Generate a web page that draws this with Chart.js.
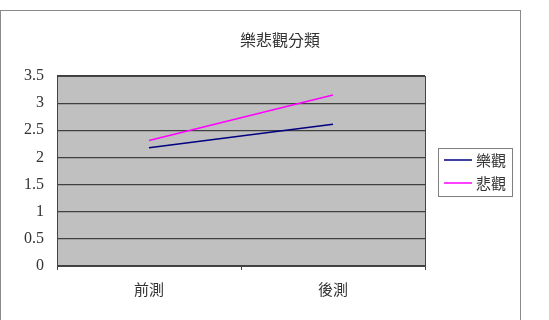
<!DOCTYPE html>
<html>
<head>
<meta charset="utf-8">
<script src="https://cdn.jsdelivr.net/npm/chart.js@4"></script>
<style>
  body { margin: 0; background: #fff; }
  canvas { display: block; }
</style>
</head>
<body>
<canvas id="chart-area" width="549" height="320"></canvas>
<script>
var titleText = '樂悲觀分類';
var categories = ['前測', '後測'];
var seriesNames = ['樂觀', '悲觀'];
var optimistValues = [2.18, 2.61];
var pessimistValues = [2.31, 3.15];
var seriesColors = ['#000080', '#ff00ff'];

var cjkFont = '"Noto Sans CJK TC", "Noto Sans CJK JP", sans-serif';
var numFont = '"Liberation Serif", "DejaVu Serif", serif';

// background, outer frame, title and legend drawn around the plot
var frame = {
  id: 'frame',
  beforeDraw: function(chart) {
    var ctx = chart.ctx;
    var a = chart.chartArea;
    ctx.save();
    ctx.fillStyle = '#ffffff';
    ctx.fillRect(0, 0, chart.width, chart.height);
    ctx.strokeStyle = '#8a8a8a';
    ctx.lineWidth = 1;
    ctx.strokeRect(0.5, 10.5, 520, 330);
    ctx.fillStyle = '#c0c0c0';
    ctx.fillRect(a.left, a.top, a.right - a.left, a.bottom - a.top);
    ctx.fillStyle = '#333';
    ctx.font = '16px ' + cjkFont;
    ctx.textAlign = 'center';
    ctx.textBaseline = 'middle';
    ctx.fillText(titleText, 280, 40);
    ctx.restore();
  },
  afterDraw: function(chart) {
    var ctx = chart.ctx;
    var a = chart.chartArea;
    ctx.save();
    ctx.strokeStyle = '#444';
    ctx.lineWidth = 1;
    ctx.strokeRect(Math.round(a.left) + 0.5, Math.round(a.top) + 0.5, a.right - a.left, a.bottom - a.top);
    // legend
    ctx.strokeStyle = '#808080';
    ctx.strokeRect(438.5, 148.5, 74, 48);
    ctx.font = '15px ' + cjkFont;
    ctx.textAlign = 'left';
    ctx.textBaseline = 'middle';
    chart.data.datasets.forEach(function(ds, i) {
      var y = 160 + i * 23;
      ctx.strokeStyle = ds.borderColor;
      ctx.lineWidth = 1.5;
      ctx.beginPath();
      ctx.moveTo(444, y);
      ctx.lineTo(472, y);
      ctx.stroke();
      ctx.fillStyle = '#333';
      ctx.fillText(ds.label, 476, y);
    });
    ctx.restore();
  }
};

var config = {
  type: 'line',
  data: {
    labels: categories,
    datasets: [{
      label: seriesNames[0],
      data: optimistValues,
      borderColor: seriesColors[0],
      borderWidth: 1.5,
      pointRadius: 0,
      tension: 0,
      fill: false
    }, {
      label: seriesNames[1],
      data: pessimistValues,
      borderColor: seriesColors[1],
      borderWidth: 1.5,
      pointRadius: 0,
      tension: 0,
      fill: false
    }]
  },
  options: {
    responsive: false,
    animation: false,
    layout: { padding: { top: 76, right: 124, left: 0, bottom: 0 } },
    plugins: {
      legend: { display: false },
      title: { display: false },
      tooltip: { enabled: false }
    },
    scales: {
      x: {
        offset: true,
        grid: { offset: true, drawOnChartArea: false, tickLength: 4, color: '#444' },
        border: { display: false },
        ticks: { color: '#333', padding: 10, font: { family: cjkFont, size: 15 } },
        afterFit: function(s) { s.height = 54; }
      },
      y: {
        min: 0,
        max: 3.5,
        ticks: {
          stepSize: 0.5,
          color: '#333',
          padding: 13,
          font: { family: numFont, size: 16 },
          callback: function(v) { return String(v); }
        },
        grid: { color: '#404040', lineWidth: 1.2, drawTicks: false },
        border: { display: false },
        afterFit: function(s) { s.width = 57; }
      }
    }
  },
  plugins: [frame]
};

window.onload = function() {
  var ctx = document.getElementById('chart-area').getContext('2d');
  window.myLine = new Chart(ctx, config);
};
</script>
</body>
</html>
